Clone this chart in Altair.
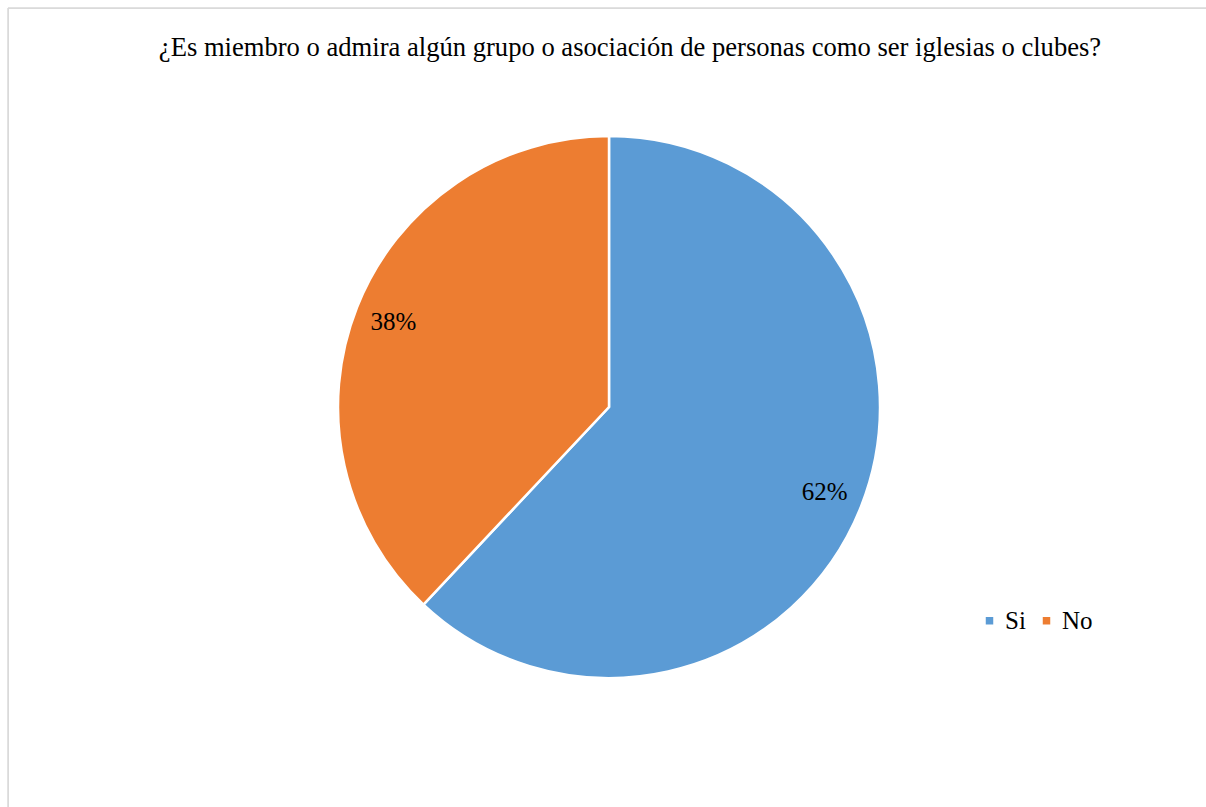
import altair as alt
import pandas as pd

categories = ["Si", "No"]
values = [62, 38]
labels = ["62%", "38%"]
title_text = "¿Es miembro o admira algún grupo o asociación de personas como ser iglesias o clubes?"

df = pd.DataFrame({"cat": categories, "val": values, "lab": labels, "order": [0, 1]})

CX, CY = 601, 399
FONT = "Liberation Serif"

base = alt.Chart(df).encode(
    theta=alt.Theta("val:Q", stack=True),
    order=alt.Order("order:Q"),
)

pie = base.mark_arc(outerRadius=271, stroke="white", strokeWidth=2.5).encode(
    x=alt.value(CX), y=alt.value(CY),
    color=alt.Color(
        "cat:N",
        scale=alt.Scale(domain=categories, range=["#5B9BD5", "#ED7D31"]),
        legend=alt.Legend(
            title=None, orient="none", legendX=969, legendY=600, direction="horizontal",
            symbolType="square", symbolSize=56, symbolStrokeWidth=0,
            labelFont=FONT, labelFontSize=25, labelColor="#000000",
            labelOffset=3, columnPadding=8, padding=0,
        ),
    ),
)

text = base.mark_text(radius=232, font=FONT, fontSize=25, color="#000000").encode(
    x=alt.value(CX), y=alt.value(CY), text="lab:N"
)

title = alt.Chart(pd.DataFrame({"t": [title_text]})).mark_text(
    font=FONT, fontSize=26.6, color="#000000", align="center", baseline="middle"
).encode(x=alt.value(622), y=alt.value(40), text="t:N")

border_left = alt.Chart(pd.DataFrame({"a": [0]})).mark_rule(color="#D9D9D9", strokeWidth=1.5).encode(
    x=alt.value(0), y=alt.value(0), y2=alt.value(799)
)
border_top = alt.Chart(pd.DataFrame({"a": [0]})).mark_rule(color="#D9D9D9", strokeWidth=1.5).encode(
    x=alt.value(0), x2=alt.value(1198), y=alt.value(0)
)

chart = alt.layer(border_left, border_top, pie, text, title).properties(
    width=1198, height=799,
    padding={"left": 8, "top": 8, "right": 0, "bottom": 0},
    autosize=alt.AutoSizeParams(type="none"),
).configure_view(stroke=None).configure(background="white")

chart.save("out.html", embed_options={"renderer": "svg", "actions": False})
